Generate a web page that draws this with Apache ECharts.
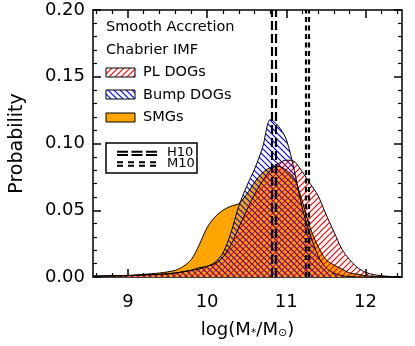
<!DOCTYPE html>
<html>
<head>
<meta charset="utf-8">
<script src="https://cdn.jsdelivr.net/npm/echarts@6/dist/echarts.min.js"></script>
<style>
html, body { margin: 0; padding: 0; background: #fff; }
#chart { width: 415px; height: 346px; }
</style>
</head>
<body>
<div id="chart"></div>
<script>
// log stellar mass bins
var massBins = [8.56, 8.8, 9.0, 9.2, 9.4, 9.6, 9.7, 9.8, 9.9, 10.0, 10.1, 10.2, 10.3, 10.4, 10.5, 10.6, 10.7, 10.8, 10.9, 11.0,
  11.1, 11.2, 11.3, 11.4, 11.5, 11.6, 11.7, 11.8, 11.9, 12.0, 12.1, 12.2, 12.3, 12.46]
var plDogs = [0.0005, 0.0008, 0.001, 0.0015, 0.002, 0.003, 0.004, 0.005, 0.006, 0.008, 0.010, 0.015, 0.024, 0.037, 0.050, 0.062, 0.072, 0.080, 0.085, 0.0875,
  0.0865, 0.079, 0.070, 0.061, 0.047, 0.034, 0.021, 0.013, 0.007, 0.0035, 0.0018, 0.001, 0.0004, 0]
var bumpDogs = [0.0005, 0.0008, 0.001, 0.0015, 0.002, 0.003, 0.004, 0.005, 0.007, 0.008, 0.011, 0.018, 0.033, 0.053, 0.068, 0.081, 0.097, 0.118, 0.113, 0.103,
  0.080, 0.052, 0.032, 0.016, 0.007, 0.003, 0.001, 0.0004, 0, 0, 0, 0, 0, 0]
var smgs = [0.0008, 0.001, 0.0012, 0.002, 0.003, 0.005, 0.008, 0.013, 0.024, 0.037, 0.045, 0.050, 0.053, 0.055, 0.062, 0.071, 0.078, 0.082, 0.083, 0.080,
  0.074, 0.057, 0.037, 0.023, 0.013, 0.009, 0.006, 0.003, 0.002, 0.001, 0.0005, 0, 0, 0]
var h10Lines = [10.815, 10.865]
var m10Lines = [11.238, 11.279]
var xTicks = [9, 10, 11, 12]
var xMinorTicks = [8.6, 8.8, 9.2, 9.4, 9.6, 9.8, 10.2, 10.4, 10.6, 10.8, 11.2, 11.4, 11.6, 11.8, 12.2, 12.4]

var FONT = 'DejaVu Sans'

function pairs(xs, ys) {
  var out = []
  for (var i = 0; i < xs.length; i++) out.push([xs[i], ys[i]])
  return out
}

// hatch tile: rising = "////", else "\\\\"
function hatch(color, rising) {
  var s = 6
  var c = document.createElement('canvas')
  c.width = s
  c.height = s
  var g = c.getContext('2d')
  g.strokeStyle = color
  g.lineWidth = 1.2
  g.beginPath()
  if (rising) {
    g.moveTo(-s, s); g.lineTo(s, -s)
    g.moveTo(0, s); g.lineTo(s, 0)
    g.moveTo(0, 2 * s); g.lineTo(2 * s, 0)
  } else {
    g.moveTo(0, 0); g.lineTo(s, s)
    g.moveTo(-s, 0); g.lineTo(s, 2 * s)
    g.moveTo(0, -s); g.lineTo(2 * s, s)
  }
  g.stroke()
  return c
}

var redHatch = { image: hatch('#ff0000', true), repeat: 'repeat' }
var blueHatch = { image: hatch('#0000ff', false), repeat: 'repeat' }
var orange = '#ffa500'

function vLines(vals, dash) {
  return vals.map(function (v) {
    return { xAxis: v, lineStyle: { color: '#000', width: 2.2, type: dash } }
  })
}

function axisLine(show) {
  return { show: show, onZero: false, lineStyle: { color: '#000', width: 1.5 } }
}
function majorTick(vals) {
  var t = { show: true, inside: true, length: 8, lineStyle: { color: '#000', width: 1.5 } }
  if (vals) t.customValues = vals
  return t
}
function minorTicks() {
  return { show: true, splitNumber: 5, length: 4, lineStyle: { color: '#000', width: 1.2 } }
}

// x axes: 0/1 bottom (major/minor ticks), 2/3 top
function xAxisDef(pos, vals, isMinor, withLabels) {
  var ax = {
    type: 'value', min: 8.56, max: 12.46, position: pos,
    axisLine: axisLine(!isMinor),
    axisTick: isMinor ? { show: true, inside: true, length: 4, customValues: vals, lineStyle: { color: '#000', width: 1.2 } } : majorTick(vals),
    axisLabel: { show: false },
    splitLine: { show: false }
  }
  if (withLabels) {
    ax.axisLabel = { show: true, customValues: xTicks, fontSize: 18, fontFamily: FONT, color: '#000', margin: 16 }
    ax.name = 'log(M{s|*}/M{s|⊙})'
    ax.nameLocation = 'middle'
    ax.nameGap = 44
    ax.nameTextStyle = {
      fontSize: 18, fontFamily: FONT, color: '#000',
      rich: { s: { fontSize: 11, fontFamily: FONT, color: '#000', verticalAlign: 'bottom' } }
    }
  }
  return ax
}

var myChart = echarts.init(document.getElementById('chart'))
myChart.setOption({
  animation: false,
  grid: { left: 91, right: 13, top: 10, bottom: 69 },
  xAxis: [
    xAxisDef('bottom', xTicks, false, true),
    xAxisDef('bottom', xMinorTicks, true, false),
    xAxisDef('top', xTicks, false, false),
    xAxisDef('top', xMinorTicks, true, false)
  ],
  yAxis: [
    {
      type: 'value', min: 0, max: 0.2, interval: 0.05, position: 'left',
      axisLine: axisLine(true),
      axisTick: majorTick(),
      minorTick: minorTicks(),
      axisLabel: {
        fontSize: 18, fontFamily: FONT, color: '#000', margin: 8,
        formatter: function (v) { return v.toFixed(2) }
      },
      splitLine: { show: false },
      minorSplitLine: { show: false },
      name: 'Probability',
      nameLocation: 'middle',
      nameGap: 66,
      nameTextStyle: { fontSize: 19, fontFamily: FONT, color: '#000' }
    },
    {
      type: 'value', min: 0, max: 0.2, interval: 0.05, position: 'right',
      axisLine: axisLine(true),
      axisTick: majorTick(),
      minorTick: minorTicks(),
      axisLabel: { show: false },
      splitLine: { show: false },
      minorSplitLine: { show: false }
    }
  ],
  series: [
    {
      name: 'SMGs', type: 'line', data: pairs(massBins, smgs),
      smooth: 0.3, symbol: 'none',
      lineStyle: { color: '#000', width: 1 },
      areaStyle: { color: orange, opacity: 1 }
    },
    {
      name: 'Bump DOGs', type: 'line', data: pairs(massBins, bumpDogs),
      smooth: 0.3, symbol: 'none',
      lineStyle: { color: '#000', width: 1 },
      areaStyle: { color: blueHatch, opacity: 1 }
    },
    {
      name: 'PL DOGs', type: 'line', data: pairs(massBins, plDogs),
      smooth: 0.3, symbol: 'none',
      lineStyle: { color: '#000', width: 1 },
      areaStyle: { color: redHatch, opacity: 1 },
      markLine: {
        silent: true, symbol: 'none', label: { show: false },
        data: vLines(h10Lines, [9, 4]).concat(vLines(m10Lines, [5, 3.5]))
      }
    }
  ],
  graphic: [
    { type: 'text', x: 106, y: 27, style: { text: 'Smooth Accretion', fontSize: 14.5, fontFamily: FONT, fill: '#000', verticalAlign: 'middle' } },
    { type: 'text', x: 106, y: 50, style: { text: 'Chabrier IMF', fontSize: 14.5, fontFamily: FONT, fill: '#000', verticalAlign: 'middle' } },
    { type: 'rect', shape: { x: 106, y: 68, width: 29, height: 9 }, style: { fill: redHatch, stroke: '#000', lineWidth: 1 } },
    { type: 'text', x: 143, y: 72.5, style: { text: 'PL DOGs', fontSize: 14.5, fontFamily: FONT, fill: '#000', verticalAlign: 'middle' } },
    { type: 'rect', shape: { x: 106, y: 90, width: 29, height: 9 }, style: { fill: blueHatch, stroke: '#000', lineWidth: 1 } },
    { type: 'text', x: 143, y: 95, style: { text: 'Bump DOGs', fontSize: 14.5, fontFamily: FONT, fill: '#000', verticalAlign: 'middle' } },
    { type: 'rect', shape: { x: 106, y: 113, width: 29, height: 9 }, style: { fill: orange, stroke: '#000', lineWidth: 1 } },
    { type: 'text', x: 143, y: 117.5, style: { text: 'SMGs', fontSize: 14.5, fontFamily: FONT, fill: '#000', verticalAlign: 'middle' } },
    // H10 / M10 key
    { type: 'rect', shape: { x: 106, y: 143, width: 91, height: 30 }, style: { fill: '#fff', stroke: '#000', lineWidth: 1.5 } },
    { type: 'line', shape: { x1: 117, y1: 151.7, x2: 160, y2: 151.7 }, style: { stroke: '#000', lineWidth: 2, lineDash: [11, 3.5] } },
    { type: 'line', shape: { x1: 117, y1: 155, x2: 160, y2: 155 }, style: { stroke: '#000', lineWidth: 2, lineDash: [11, 3.5] } },
    { type: 'line', shape: { x1: 117, y1: 162.3, x2: 156, y2: 162.3 }, style: { stroke: '#000', lineWidth: 2, lineDash: [6, 5] } },
    { type: 'line', shape: { x1: 117, y1: 165.7, x2: 156, y2: 165.7 }, style: { stroke: '#000', lineWidth: 2, lineDash: [6, 5] } },
    { type: 'text', x: 167, y: 153, style: { text: 'H10', fontSize: 13, fontFamily: FONT, fill: '#000', verticalAlign: 'middle' } },
    { type: 'text', x: 167, y: 164, style: { text: 'M10', fontSize: 13, fontFamily: FONT, fill: '#000', verticalAlign: 'middle' } }
  ]
})
</script>
</body>
</html>
